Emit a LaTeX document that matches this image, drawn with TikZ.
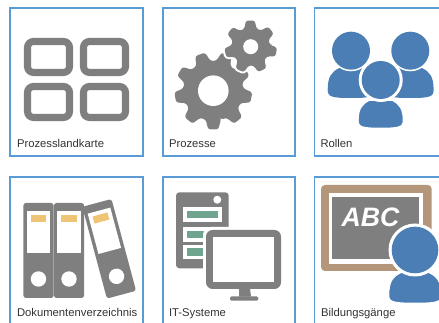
\documentclass[tikz,border=0pt]{standalone}
\usepackage{fontspec}
\setmainfont{Liberation Sans}
\definecolor{tileblue}{HTML}{5B9BD5}
\definecolor{icongrey}{HTML}{7F7F7F}
\definecolor{roleblue}{HTML}{4A7EB5}
\definecolor{foldyellow}{HTML}{EFC474}
\definecolor{rowgreen}{HTML}{6FA48F}
\definecolor{boardbrown}{HTML}{B4977A}
\definecolor{labelgrey}{HTML}{333333}
\tikzset{
  tileline/.style={draw=tileblue,line width=1pt},
  tilelabel/.style={anchor=base west,inner sep=0pt,outer sep=0pt,text=labelgrey,font=\fontsize{8.45pt}{10pt}\selectfont},
  mapcell/.style={draw=icongrey,line width=5.3pt,rounded corners=4.5pt},
}
\newcommand{\mygear}[7]{%
  \pgfmathsetmacro{\gstep}{360/#3}
  \path[#7,rounded corners=1.8pt] ({#1+#5*cos(#6-0.36*\gstep)},{#2+#5*sin(#6-0.36*\gstep)})
    \foreach \gi in {1,...,#3}{
      -- ({#1+#4*cos(#6+(\gi-1)*\gstep-0.19*\gstep)},{#2+#4*sin(#6+(\gi-1)*\gstep-0.19*\gstep)})
      -- ({#1+#4*cos(#6+(\gi-1)*\gstep+0.19*\gstep)},{#2+#4*sin(#6+(\gi-1)*\gstep+0.19*\gstep)})
      -- ({#1+#5*cos(#6+(\gi-1)*\gstep+0.36*\gstep)},{#2+#5*sin(#6+(\gi-1)*\gstep+0.36*\gstep)})
      -- ({#1+#5*cos(#6+\gi*\gstep-0.36*\gstep)},{#2+#5*sin(#6+\gi*\gstep-0.36*\gstep)})
    } -- cycle;
}
% cx, top of body, bottom of body, half width
\newcommand{\mybody}[4]{%
  ({#1-#4},{#3-8}) .. controls ({#1-#4},{#2+9}) and ({#1-0.85*#4},{#2+4}) .. ({#1-0.5*#4},{#2})
  -- ({#1+0.5*#4},{#2}) .. controls ({#1+0.85*#4},{#2+4}) and ({#1+#4},{#2+9}) .. ({#1+#4},{#3-8})
  .. controls ({#1+#4},{#3-1}) and ({#1+0.8*#4},{#3}) .. ({#1},{#3})
  .. controls ({#1-0.8*#4},{#3}) and ({#1-#4},{#3-1}) .. ({#1-#4},{#3-8}) -- cycle
}
\newcommand{\mybinder}{%
  \fill[icongrey,rounded corners=2pt] (-15.1,-47.5) rectangle (15.1,47.5);
  \fill[white] (-11.7,-39.5) rectangle (11.7,2.2);
  \fill[foldyellow] (-7.7,-35.5) rectangle (7.7,-28.2);
  \fill[white] (0,28.5) circle (7.7);
}
\begin{document}
\begin{tikzpicture}[x=0.75pt,y=-0.75pt]
\useasboundingbox (0,0) rectangle (439,323);
\clip (0,0) rectangle (439,323);
\fill[white] (0,0) rectangle (439,323);
% tile frames
\draw[tileline] (10,8) rectangle (143,156);
\draw[tileline] (163,8) rectangle (295,156);
\draw[tileline] (439.5,8) -- (314.5,8) -- (314.5,156) -- (439.5,156);
\draw[tileline] (10,325) -- (10,177) -- (143,177) -- (143,325);
\draw[tileline] (163,325) -- (163,177) -- (295,177) -- (295,325);
\draw[tileline] (439.5,177) -- (314.5,177) -- (314.5,325);
% process map
\draw[mapcell] (27.5,41.5) rectangle (69.5,72.5);
\draw[mapcell] (83.5,41.5) rectangle (125.5,72.5);
\draw[mapcell] (27.5,86.5) rectangle (69.5,117.5);
\draw[mapcell] (83.5,86.5) rectangle (125.5,117.5);
% gears
\mygear{213.3}{90.7}{9}{39}{30}{90}{fill=icongrey}
\fill[white] (213.3,90.7) circle (15.3);
\mygear{250.7}{46.7}{7}{26.5}{19}{12}{draw=white,line width=3pt}
\mygear{250.7}{46.7}{7}{26.5}{19}{12}{fill=icongrey}
\fill[white] (250.7,46.7) circle (7.5);
% roles
\fill[roleblue] \mybody{351}{68}{98}{23.3};
\fill[roleblue] \mybody{410.3}{68}{98}{23.3};
\fill[white] (351,50.7) circle (20.6);
\fill[white] (410.3,50.7) circle (20.6);
\fill[roleblue] (351,50.7) circle (19);
\fill[roleblue] (410.3,50.7) circle (19);
\filldraw[fill=roleblue,draw=white,line width=1.2pt] \mybody{380.7}{100}{128.5}{22.8};
\fill[white] (380.7,80) circle (22);
\fill[roleblue] (380.7,80) circle (19);
% binders
\begin{scope}[shift={(38.5,250.5)}]\mybinder\end{scope}
\begin{scope}[shift={(69,250.5)}]\mybinder\end{scope}
\begin{scope}[shift={(109.2,248.8)},rotate=15]\mybinder\end{scope}
% server
\fill[icongrey,rounded corners=2.5pt] (176,192.3) rectangle (228.7,268.3);
\fill[white] (217.3,199.7) circle (4);
\fill[white] (183.3,207.3) rectangle (221.7,221.7);
\fill[rowgreen] (186.7,211) rectangle (217.7,218.3);
\fill[white] (183.3,227.3) rectangle (221.7,241.7);
\fill[rowgreen] (186.7,230.8) rectangle (217.7,238.3);
\fill[white] (183.3,245) rectangle (221.7,259.3);
\fill[rowgreen] (186.7,248.3) rectangle (217.7,256);
% monitor
\fill[white,rounded corners=6pt] (203,227) rectangle (284,300);
\fill[white] (203,270) rectangle (232,300);
\fill[icongrey,rounded corners=5pt] (206,230) rectangle (281,289);
\fill[white] (213.3,237.3) rectangle (274,281.7);
\fill[icongrey] (239,288) -- (250,288) -- (251,296.7) -- (239,296.7) -- cycle;
\fill[icongrey,rounded corners=1pt] (230,296.5) rectangle (258.3,300.7);
% board
\fill[boardbrown,rounded corners=3pt] (321,185) rectangle (431.7,271);
\fill[white] (329.3,192.7) rectangle (423.3,264);
\fill[icongrey] (332.3,197.3) rectangle (419.3,259.3);
\node[inner sep=0pt,text=white,font=\fontsize{20pt}{20pt}\selectfont\bfseries\itshape] (abc) at (370.5,217.5) {ABC};
\filldraw[fill=roleblue,draw=white,line width=1.2pt] \mybody{415}{272}{303.5}{26.5};
\fill[white] (415,250) circle (26.5);
\fill[roleblue] (415,250) circle (23.3);
% labels
\node[tilelabel] (l1) at (17,148) {Prozesslandkarte};
\node[tilelabel] (l2) at (169,148) {Prozesse};
\node[tilelabel] (l3) at (320.5,148) {Rollen};
\node[tilelabel] (l4) at (17,316.5) {Dokumentenverzeichnis};
\node[tilelabel] (l5) at (169,316.5) {IT-Systeme};
\node[tilelabel] (l6) at (321,316.5) {Bildungsgänge};
\end{tikzpicture}
\end{document}
